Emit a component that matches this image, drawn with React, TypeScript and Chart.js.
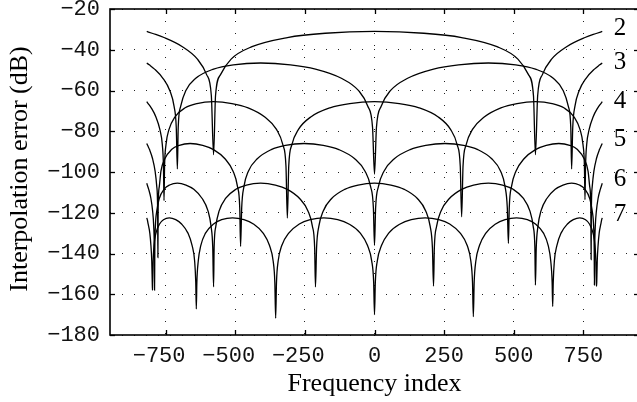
import { useEffect, useRef } from "react";
import { Chart, registerables } from "chart.js";

Chart.register(...registerables);

// ---- axis ticks ----
const xTicks = [-750, -500, -250, 0, 250, 500, 750];
const xTickLabels = ["−750", "−500", "−250", "0", "250", "500", "750"];
const yTicks = [-180, -160, -140, -120, -100, -80, -60, -40, -20];
const yTickLabels = ["−180", "−160", "−140", "−120", "−100", "−80", "−60", "−40", "−20"];

// ---- curve labels (interpolation order) ----
const curveNames = ["2", "3", "4", "5", "6", "7"];
const curveLabelX = 882;
const curveLabelY = [-29.5, -46.1, -65.3, -84.2, -103.8, -120.7];

// ---- series (frequency index, error dB) ----
const order2X = [-818, -799, -756, -690, -636, -603, -586, -578, -571, -553, -515, -440, -313, -177, 0, 177, 313, 440, 515, 553, 571, 578, 586, 603, 636, 690, 756, 799, 818];
const order2Y = [-31, -31.9, -34, -38.5, -44.6, -52.2, -62.6, -91.5, -62.6, -52.2, -44.6, -38.5, -34, -31.9, -31, -31.9, -34, -38.5, -44.6, -52.2, -62.6, -91.5, -62.6, -52.2, -44.6, -38.5, -34, -31.9, -31];

const order3X = [-818, -809, -790, -760, -735, -720, -712, -708, -705, -696, -678, -642, -578, -507, -409, -302, -212, -119, -57, -24, -7, 0, 7, 24, 57, 119, 212, 302, 409, 507, 578, 642, 678, 696, 705, 708, 712, 720, 735, 760, 790, 809, 818];
const order3Y = [-46.5, -47.4, -49.5, -54, -60.1, -67.7, -78.1, -98.5, -78.1, -67.7, -60.1, -54, -49.5, -47.4, -46.5, -47.4, -49.5, -54, -60.1, -67.7, -78.1, -101, -78.1, -67.7, -60.1, -54, -49.5, -47.4, -46.5, -47.4, -49.5, -54, -60.1, -67.7, -78.1, -98.5, -78.1, -67.7, -60.1, -54, -49.5, -47.4, -46.5];

const order4X = [-818, -813, -802, -785, -771, -762, -758, -756, -754, -749, -738, -717, -680, -638, -578, -512, -454, -394, -352, -329, -318, -313, -308, -297, -273, -229, -160, -89, 0, 89, 160, 229, 273, 297, 308, 313, 318, 329, 352, 394, 454, 512, 578, 638, 680, 717, 738, 749, 754, 756, 758, 762, 771, 785, 802, 813, 818];
const order4Y = [-65.5, -66.4, -68.5, -73, -79.1, -86.7, -97.1, -114, -97.1, -86.7, -79.1, -73, -68.5, -66.4, -65.5, -66.4, -68.5, -73, -79.1, -86.7, -97.1, -122.6, -97.1, -86.7, -79.1, -73, -68.5, -66.4, -65.5, -66.4, -68.5, -73, -79.1, -86.7, -97.1, -122, -97.1, -86.7, -79.1, -73, -68.5, -66.4, -65.5, -66.4, -68.5, -73, -79.1, -86.7, -97.1, -113.6, -97.1, -86.7, -79.1, -73, -68.5, -66.4, -65.5];

const order5X = [-818, -815, -808, -797, -788, -782, -779, -778, -777, -773, -767, -753, -729, -701, -662, -617, -578, -537, -508, -492, -484, -481, -477, -469, -453, -421, -371, -320, -253, -184, -128, -71, -34, -14, -4, 0, 4, 14, 34, 71, 128, 184, 253, 320, 371, 421, 453, 469, 477, 481, 484, 492, 508, 537, 578, 617, 662, 701, 729, 753, 767, 773, 777, 778, 779, 782, 788, 797, 808, 815, 818];
const order5Y = [-86, -86.9, -89, -93.5, -99.6, -107.2, -117.6, -142, -117.6, -107.2, -99.6, -93.5, -89, -86.9, -86, -86.9, -89, -93.5, -99.6, -107.2, -117.6, -136.5, -117.6, -107.2, -99.6, -93.5, -89, -86.9, -86, -86.9, -89, -93.5, -99.6, -107.2, -117.6, -136, -117.6, -107.2, -99.6, -93.5, -89, -86.9, -86, -86.9, -89, -93.5, -99.6, -107.2, -117.6, -135, -117.6, -107.2, -99.6, -93.5, -89, -86.9, -86, -86.9, -89, -93.5, -99.6, -107.2, -117.6, -143, -117.6, -107.2, -99.6, -93.5, -89, -86.9, -86];

const order6X = [-818, -816, -811, -803, -797, -793, -791, -790, -789, -787, -782, -773, -756, -736, -708, -677, -649, -619, -598, -587, -581, -578, -576, -570, -558, -535, -498, -460, -409, -356, -313, -269, -239, -223, -215, -212, -208, -200, -184, -154, -107, -59, 0, 59, 107, 154, 184, 200, 208, 212, 215, 223, 239, 269, 313, 356, 409, 460, 498, 535, 558, 570, 576, 578, 581, 587, 598, 619, 649, 677, 708, 736, 756, 773, 782, 787, 789, 790, 791, 793, 797, 803, 811, 816, 818];
const order6Y = [-105.5, -106.4, -108.5, -113, -119.1, -126.7, -137.1, -158, -137.1, -126.7, -119.1, -113, -108.5, -106.4, -105.5, -106.4, -108.5, -113, -119.1, -126.7, -137.1, -156.4, -137.1, -126.7, -119.1, -113, -108.5, -106.4, -105.5, -106.4, -108.5, -113, -119.1, -126.7, -137.1, -156.4, -137.1, -126.7, -119.1, -113, -108.5, -106.4, -105.5, -106.4, -108.5, -113, -119.1, -126.7, -137.1, -156, -137.1, -126.7, -119.1, -113, -108.5, -106.4, -105.5, -106.4, -108.5, -113, -119.1, -126.7, -137.1, -155.5, -137.1, -126.7, -119.1, -113, -108.5, -106.4, -105.5, -106.4, -108.5, -113, -119.1, -126.7, -137.1, -155.5, -137.1, -126.7, -119.1, -113, -108.5, -106.4, -105.5];

const order7X = [-818, -816, -813, -807, -803, -800, -798.2, -797.5, -796.8, -795, -792, -785, -772, -758, -737, -714, -693, -670, -655, -646, -642, -640, -638, -633, -624, -607, -578, -549, -510, -469, -435, -400, -377, -364, -358, -355, -352, -346, -333, -308, -270, -231, -182, -132, -92, -51, -25, -10, -3, 0, 3, 10, 25, 51, 92, 132, 182, 231, 270, 308, 333, 346, 352, 355, 358, 364, 377, 400, 435, 469, 510, 549, 578, 607, 624, 633, 638, 640, 642, 646, 655, 670, 693, 714, 737, 758, 772, 785, 792, 795, 796.8, 797.5, 798.2, 800, 803, 807, 813, 816, 818];
const order7Y = [-122.5, -123.4, -125.5, -130, -136.1, -143.7, -154.1, -158, -154.1, -143.7, -136.1, -130, -125.5, -123.4, -122.5, -123.4, -125.5, -130, -136.1, -143.7, -154.1, -167.2, -154.1, -143.7, -136.1, -130, -125.5, -123.4, -122.5, -123.4, -125.5, -130, -136.1, -143.7, -154.1, -171.7, -154.1, -143.7, -136.1, -130, -125.5, -123.4, -122.5, -123.4, -125.5, -130, -136.1, -143.7, -154.1, -170, -154.1, -143.7, -136.1, -130, -125.5, -123.4, -122.5, -123.4, -125.5, -130, -136.1, -143.7, -154.1, -171, -154.1, -143.7, -136.1, -130, -125.5, -123.4, -122.5, -123.4, -125.5, -130, -136.1, -143.7, -154.1, -166, -154.1, -143.7, -136.1, -130, -125.5, -123.4, -122.5, -123.4, -125.5, -130, -136.1, -143.7, -154.1, -156, -154.1, -143.7, -136.1, -130, -125.5, -123.4, -122.5];

const seriesX = [order2X, order3X, order4X, order5X, order6X, order7X];
const seriesY = [order2Y, order3Y, order4Y, order5Y, order6Y, order7Y];

const TICK_FONT = { family: "'Liberation Mono', 'DejaVu Sans Mono', monospace", size: 22 };
const SERIF = "'Liberation Serif', 'DejaVu Serif', serif";

const framePlugin = {
  id: "framePlugin",
  afterDraw(chart: any) {
    const { ctx, chartArea: a } = chart;
    const xs = chart.scales.x;
    const ys = chart.scales.y;
    ctx.save();
    ctx.strokeStyle = "#000";
    ctx.lineWidth = 1.3;
    const line = (x1: number, y1: number, x2: number, y2: number) => {
      ctx.beginPath();
      ctx.moveTo(x1, y1);
      ctx.lineTo(x2, y2);
      ctx.stroke();
    };
    xTicks.forEach((v) => {
      const p = Math.round(xs.getPixelForValue(v)) + 0.5;
      line(p, a.bottom, p, a.bottom - 5);
      line(p, a.top, p, a.top + 5);
    });
    yTicks.forEach((v) => {
      const p = Math.round(ys.getPixelForValue(v)) + 0.5;
      line(a.left, p, a.left + 5, p);
      line(a.right, p, a.right - 5, p);
    });
    ctx.lineWidth = 1.6;
    ctx.strokeRect(a.left, a.top, a.right - a.left, a.bottom - a.top);

    ctx.fillStyle = "#000";
    ctx.font = `26px ${SERIF}`;
    ctx.textAlign = "center";
    ctx.textBaseline = "alphabetic";
    ctx.fillText("Frequency index", (a.left + a.right) / 2, 391);
    ctx.save();
    ctx.translate(27, 169);
    ctx.rotate(-Math.PI / 2);
    ctx.fillText("Interpolation error (dB)", 0, 0);
    ctx.restore();

    ctx.font = `25px ${SERIF}`;
    ctx.textBaseline = "middle";
    curveNames.forEach((n, i) => {
      ctx.fillText(n, xs.getPixelForValue(curveLabelX), ys.getPixelForValue(curveLabelY[i]));
    });
    ctx.restore();
  },
};

export default function App() {
  const ref = useRef<HTMLCanvasElement | null>(null);

  useEffect(() => {
    document.body.style.margin = "0";
    document.body.style.overflow = "hidden";
    const canvas = ref.current;
    if (!canvas) return;
    const chart = new Chart(canvas, {
      type: "line",
      data: {
        datasets: seriesX.map((xsArr, k) => ({
          label: curveNames[k],
          data: xsArr.map((x, i) => ({ x, y: seriesY[k][i] })),
          borderColor: "#000",
          borderWidth: 1.3,
          pointRadius: 0,
          fill: false,
          cubicInterpolationMode: "monotone" as const,
        })),
      },
      options: {
        responsive: false,
        animation: false,
        events: [],
        layout: { padding: { left: 0, top: 9, right: 3, bottom: 0 } },
        plugins: { legend: { display: false }, tooltip: { enabled: false } },
        scales: {
          x: {
            type: "linear",
            min: -950,
            max: 950,
            afterBuildTicks: (s: any) => {
              s.ticks = xTicks.map((v) => ({ value: v }));
            },
            afterFit: (s: any) => {
              s.height = 67;
              s.paddingLeft = 0;
              s.paddingRight = 0;
            },
            ticks: {
              autoSkip: false,
              maxRotation: 0,
              padding: 8,
              color: "#111",
              font: TICK_FONT,
              callback: (v: any) => {
                const i = xTicks.indexOf(Number(v));
                if (i < 0) return "";
                const t = xTickLabels[i];
                return t.startsWith("−") ? t + " " : t;
              },
            },
            grid: { color: "#222", lineWidth: 1, drawTicks: false },
            border: { display: false, dash: [1, 11] },
          },
          y: {
            type: "linear",
            min: -180,
            max: -20,
            afterBuildTicks: (s: any) => {
              s.ticks = yTicks.map((v) => ({ value: v }));
            },
            afterFit: (s: any) => {
              s.width = 110;
              s.paddingTop = 0;
              s.paddingBottom = 0;
            },
            ticks: {
              padding: 10,
              color: "#111",
              font: TICK_FONT,
              callback: (v: any) => {
                const i = yTicks.indexOf(Number(v));
                return i < 0 ? "" : yTickLabels[i];
              },
            },
            grid: { color: "#222", lineWidth: 1, drawTicks: false },
            border: { display: false, dash: [1, 11] },
          },
        },
      },
      plugins: [framePlugin],
    });
    return () => chart.destroy();
  }, []);

  return (
    <div style={{ position: "fixed", left: 0, top: 0, width: 642, height: 402, background: "#fff" }}>
      <canvas ref={ref} width={642} height={402} style={{ display: "block" }} />
    </div>
  );
}
